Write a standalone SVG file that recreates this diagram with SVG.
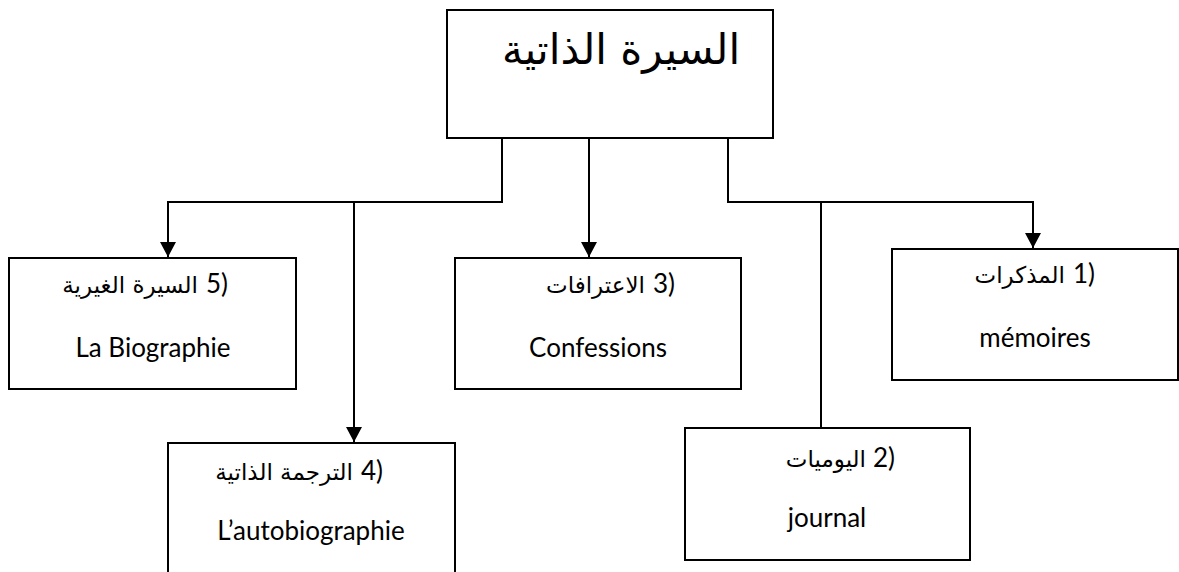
<svg xmlns="http://www.w3.org/2000/svg" width="1179" height="572" viewBox="0 0 1179 572">
<style>
.box{fill:#fff;stroke:#000;stroke-width:2}
.lbl{font-family:Lato,"DejaVu Sans",sans-serif;font-size:26px;fill:#000;text-anchor:middle}
.ar{font-family:"DejaVu Sans",sans-serif;font-size:23px;fill:#000;text-anchor:end}
.num{font-family:Lato,"DejaVu Sans",sans-serif;font-size:26px;fill:#000;text-anchor:start}
.title{font-family:"DejaVu Sans",sans-serif;font-size:42px;fill:#000;text-anchor:middle}
.ln{fill:none;stroke:#000;stroke-width:2}
</style>
<defs>
<marker id="arr" viewBox="0 0 15 16" refX="15" refY="8" markerWidth="15" markerHeight="16" markerUnits="userSpaceOnUse" orient="auto">
<path d="M0,0 L15,8 L0,16 Z" fill="#000"/>
</marker>
</defs>
<g id="connectors">
<path class="ln" d="M502,138 V202 H168 V257" marker-end="url(#arr)"/>
<path class="ln" d="M354,202 V442" marker-end="url(#arr)"/>
<path class="ln" d="M589,138 V257" marker-end="url(#arr)"/>
<path class="ln" d="M728,138 V202 H1033 V248" marker-end="url(#arr)"/>
<path class="ln" d="M821,202 V428"/>
</g>
<g id="root">
<rect class="box" x="447" y="10" width="326" height="128"/>
<text class="title" x="621" y="64">السيرة الذاتية</text>
</g>
<g id="n5">
<rect class="box" x="9" y="258" width="287" height="131"/>
<text class="ar" x="198" y="293">السيرة الغيرية</text>
<text class="num" x="206" y="293">5)</text>
<text class="lbl" x="153" y="357">La Biographie</text>
</g>
<g id="n3">
<rect class="box" x="455" y="258" width="286" height="131"/>
<text class="ar" x="645" y="293">الاعترافات</text>
<text class="num" x="653" y="293">3)</text>
<text class="lbl" x="598" y="357">Confessions</text>
</g>
<g id="n1">
<rect class="box" x="892" y="249" width="286" height="131"/>
<text class="ar" x="1065" y="283">المذكرات</text>
<text class="num" x="1073" y="283">1)</text>
<text class="lbl" x="1035" y="347">mémoires</text>
</g>
<g id="n4">
<rect class="box" x="168" y="443" width="287" height="140"/>
<text class="ar" x="353" y="480">الترجمة الذاتية</text>
<text class="num" x="361" y="480">4)</text>
<text class="lbl" x="311" y="540">L’autobiographie</text>
</g>
<g id="n2">
<rect class="box" x="685" y="428" width="285" height="132"/>
<text class="ar" x="866" y="467">اليوميات</text>
<text class="num" x="873" y="467">2)</text>
<text class="lbl" x="827" y="527">journal</text>
</g>
</svg>
